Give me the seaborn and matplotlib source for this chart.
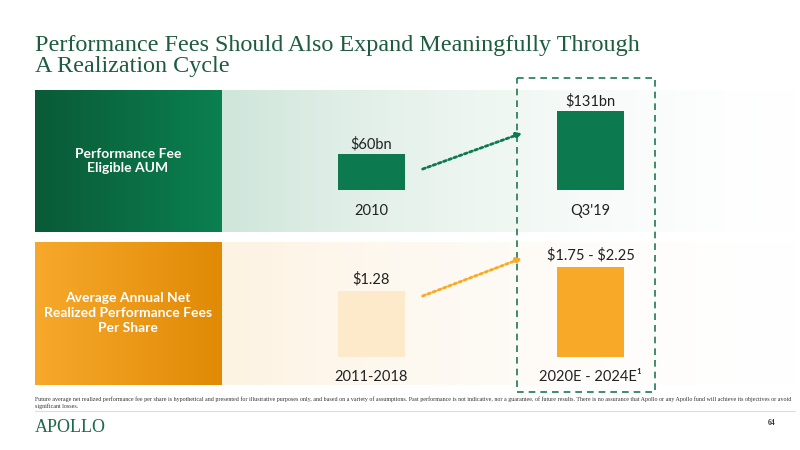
import numpy as np
import matplotlib
matplotlib.use("Agg")
import matplotlib.pyplot as plt
import seaborn as sns
import pandas as pd
from matplotlib.colors import to_rgb

sns.set_theme(style="white")
plt.rcParams['font.family'] = ['Lato', 'DejaVu Sans']

aum_labels = ["2010", "Q3'19"]
aum_values = [60, 131]
aum_text = [r"\$60bn", r"\$131bn"]
fee_labels = ["2011-2018", "2020E - 2024E¹"]
fee_values = [1.28, 1.75]
fee_text = [r"\$1.28", r"\$1.75 - \$2.25"]

GREEN = "#0c7a4e"; ORANGE = "#f8a928"; LIGHT = "#fdeacb"
TITLE_C = "#1d5c3f"

fig = plt.figure(figsize=(8, 4.5), dpi=100)
bg = fig.add_axes([0, 0, 1, 1]); bg.set_xlim(0, 800); bg.set_ylim(450, 0); bg.axis("off")

def grad(ax, x0, x1, y0, y1, c0, c1, a0=1, a1=1):
    n = 256
    t = np.linspace(0, 1, n)
    c0 = np.array(to_rgb(c0)); c1 = np.array(to_rgb(c1))
    rgb = c0[None, :] * (1 - t[:, None]) + c1[None, :] * t[:, None]
    a = (a0 * (1 - t) + a1 * t)[:, None]
    img = np.concatenate([rgb, a], axis=1)[None, :, :]
    ax.imshow(img, extent=[x0, x1, y1, y0], aspect="auto", zorder=1)

grad(bg, 222, 795, 90, 232, "#cfe6da", "#ffffff", 1, 0.2)
grad(bg, 35, 222, 90, 232, "#0a5a38", "#0b8050")
grad(bg, 222, 795, 242, 385, "#fdf3e2", "#ffffff", 1, 0.2)
grad(bg, 35, 222, 242, 385, "#f7a92c", "#e08a05")
bg.set_xlim(0, 800); bg.set_ylim(450, 0)

bg.text(128, 161, "Performance Fee\nEligible AUM", color="white", fontsize=10, fontweight="bold",
        ha="center", va="center", linespacing=1.3, zorder=3)
bg.text(128, 313, "Average Annual Net\nRealized Performance Fees\nPer Share", color="white", fontsize=10,
        fontweight="bold", ha="center", va="center", linespacing=1.3, zorder=3)
bg.text(35, 56, "Performance Fees Should Also Expand Meaningfully Through\nA Realization Cycle",
        color=TITLE_C, fontsize=17.4, family="Liberation Serif", ha="left", va="center", linespacing=1.0)
bg.text(35, 396, "Future average net realized performance fee per share is hypothetical and presented for illustrative purposes only, and based on a variety of assumptions. Past performance is not indicative, nor a guarantee, of future results. There is no assurance that Apollo or any Apollo fund will achieve its objectives or avoid\nsignificant losses.",
        fontsize=4.3, family="Liberation Serif", color="#333333", ha="left", va="top", linespacing=1.3)
bg.plot([35, 795], [411, 411], color="#dddddd", lw=0.8)
bg.text(35, 428, "APOLLO", color="#1d6b4a", fontsize=13, family="Liberation Serif", ha="left", va="center")
bg.text(775, 423, "64", fontsize=5.5, family="Liberation Serif", fontweight="bold", color="#333", ha="right", va="center")

bg.plot([517, 655, 655, 517, 517], [78, 78, 392, 392, 78], ls=(0, (4, 3)), color="#1e7a52", lw=1.2, zorder=4)
bg.annotate("", xy=(525, 132), xytext=(420, 170),
            arrowprops=dict(arrowstyle="-|>", color=GREEN, lw=2, ls=(0, (1, 1)), mutation_scale=8), zorder=4)
bg.annotate("", xy=(525, 257), xytext=(420, 297),
            arrowprops=dict(arrowstyle="-|>", color=ORANGE, lw=2, ls=(0, (1, 1)), mutation_scale=8), zorder=4)

def bar_axes(top_px, base_px, ylim_top, labels, values, texts, colors, lab_off, val_off):
    ax = fig.add_axes([262 / 800, 1 - base_px / 450, 438 / 800, (base_px - top_px) / 450])
    ax.patch.set_alpha(0)
    df = pd.DataFrame({"cat": labels, "val": values})
    sns.barplot(data=df, x="cat", y="val", hue="cat", palette=colors, width=0.31, ax=ax,
                legend=False, saturation=1, linewidth=0, edgecolor="none")
    ax.set_xlim(-0.5, 1.5); ax.set_ylim(0, ylim_top)
    ax.axis("off")
    for i, (v, t, l) in enumerate(zip(values, texts, labels)):
        ax.annotate(t, (i, v), xytext=(0, val_off), textcoords="offset pixels", ha="center",
                    va="bottom", fontsize=10.5, color="#222")
        ax.annotate(l, (i, 0), xytext=(0, -lab_off), textcoords="offset pixels", ha="center",
                    va="top", fontsize=10.5, color="#222")
    return ax

bar_axes(90, 190, 100 / 0.6, aum_labels, aum_values, aum_text, [GREEN, GREEN], 14, 3)
bar_axes(242, 357, 115 / 51.6, fee_labels, fee_values, fee_text, [LIGHT, ORANGE], 13, 4)

fig.savefig("out.png", dpi=100)
